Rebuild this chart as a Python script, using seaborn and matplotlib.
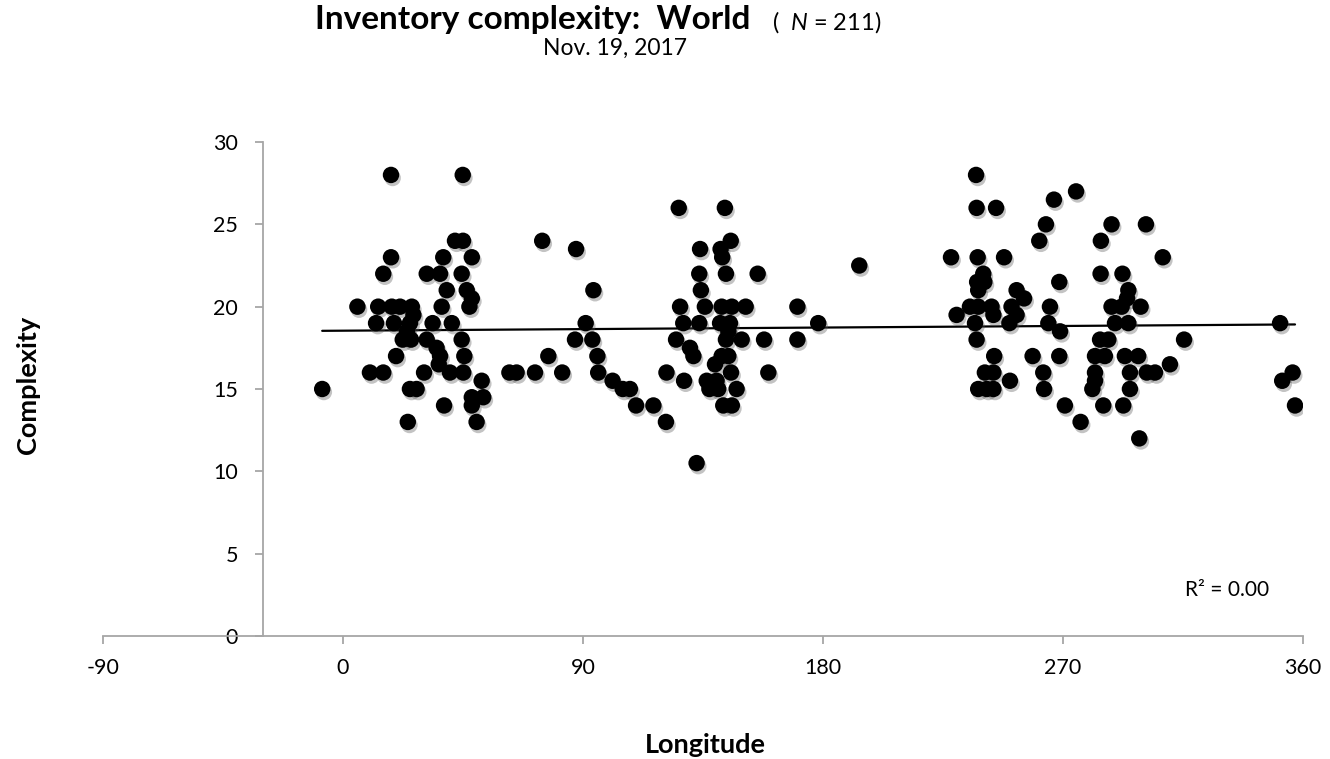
import matplotlib
matplotlib.use("Agg")
import matplotlib.pyplot as plt
import matplotlib.patheffects as pe
import pandas as pd
import seaborn as sns

# Longitude (degrees east, 0-360) and inventory complexity per language
longitude = [
    # Europe / Africa
    18.0, 44.9, 42.0, 45.0, 18.0, 37.6, 48.3, 15.1, 31.4, 36.4, 44.5,
    38.9, 46.4, 48.3, 47.4, 5.4, 13.2, 18.3, 21.4, 25.8, 37.0, 26.4,
    12.4, 19.1, 25.1, 33.6, 40.8, 24.0, 22.4, 25.5, 31.4, 44.5,
    35.1, 36.4, 35.9, 45.5, 19.9, 10.1, 15.1, 30.4, 40.1, 45.1,
    52.0, -7.8, 25.1, 27.6, 48.3, 52.6, 48.3, 37.9, 24.3, 50.1,
    # Asia
    74.7, 87.4, 93.9, 91.0, 87.0, 93.5, 95.4, 77.0,
    62.4, 65.1, 72.0, 82.2, 95.7, 101.1, 104.9, 107.6, 109.9, 116.4,
    121.1, 121.3,
    # East Asia / Oceania
    125.9, 143.2, 145.4, 133.9, 141.6, 142.2, 133.6, 143.6, 155.5, 134.2,
    126.4, 135.7, 142.0, 145.8, 151.0, 170.4, 127.6, 133.6, 141.4, 145.1,
    178.2, 144.5, 124.9, 143.6, 149.5, 157.9, 170.4, 130.1, 131.4, 142.0,
    144.5, 139.5, 145.5, 159.5, 127.9, 136.4, 140.1, 137.4, 140.7, 147.6,
    142.6, 145.8, 132.6, 193.6,
    # North America
    237.4, 237.6, 244.9, 228.0, 238.0, 247.9, 240.1, 237.8, 240.5, 238.2,
    252.6, 255.4, 235.1, 238.2, 243.2, 250.7, 230.1, 243.9, 252.6, 237.0,
    249.9, 237.6, 244.2, 258.6, 240.7, 243.9, 250.1, 238.2, 241.4, 243.9,
    # Central / South America
    274.9, 266.6, 263.6, 288.2, 301.1, 261.1, 284.2, 307.4, 284.1, 292.3,
    268.6, 294.5, 294.0, 265.1, 288.2, 292.0, 299.1, 264.5, 289.5, 294.5,
    268.9, 283.9, 287.0, 315.4, 268.6, 282.0, 285.7, 293.2, 298.2, 310.1,
    262.6, 282.0, 295.1, 301.4, 304.5, 282.0, 262.9, 281.0, 295.1, 270.7,
    285.1, 292.6, 276.6, 298.6,
    # Atlantic fringe
    351.4, 356.1, 352.2, 357.0,
]

complexity = [
    28, 28, 24, 24, 23, 23, 23, 22, 22, 22, 22,
    21, 21, 20.5, 20, 20, 20, 20, 20, 20, 20, 19.5,
    19, 19, 19, 19, 19, 18.5, 18, 18, 18, 18,
    17.5, 17, 16.5, 17, 17, 16, 16, 16, 16, 16,
    15.5, 15, 15, 15, 14.5, 14.5, 14, 14, 13, 13,
    24, 23.5, 21, 19, 18, 18, 17, 17,
    16, 16, 16, 16, 16, 15.5, 15, 15, 14, 14,
    13, 16,
    26, 26, 24, 23.5, 23.5, 23, 22, 22, 22, 21,
    20, 20, 20, 20, 20, 20, 19, 19, 19, 19,
    19, 18.5, 18, 18, 18, 18, 18, 17.5, 17, 17,
    17, 16.5, 16, 16, 15.5, 15.5, 15.5, 15, 15, 15,
    14, 14, 10.5, 22.5,
    28, 26, 26, 23, 23, 23, 22, 21.5, 21.5, 21,
    21, 20.5, 20, 20, 20, 20, 19.5, 19.5, 19.5, 19,
    19, 18, 17, 17, 16, 16, 15.5, 15, 15, 15,
    27, 26.5, 25, 25, 25, 24, 24, 23, 22, 22,
    21.5, 21, 20.5, 20, 20, 20, 20, 19, 19, 19,
    18.5, 18, 18, 18, 17, 17, 17, 17, 17, 16.5,
    16, 16, 16, 16, 16, 15.5, 15, 15, 15, 14,
    14, 14, 13, 12,
    19, 16, 15.5, 14,
]

x_ticks = [-90, 0, 90, 180, 270, 360]
y_ticks = [0, 5, 10, 15, 20, 25, 30]

df = pd.DataFrame({"Longitude": longitude, "Complexity": complexity})

sns.set_theme(style="white")
plt.rcParams["font.family"] = ["Lato", "DejaVu Sans"]
plt.rcParams["mathtext.fontset"] = "custom"
plt.rcParams["mathtext.it"] = "Lato:italic"
plt.rcParams["mathtext.rm"] = "Lato"
plt.rcParams["axes.unicode_minus"] = False
plt.rcParams["text.color"] = "black"

W, H = 1330, 759
fig = plt.figure(figsize=(W / 100, H / 100), dpi=100)
ax = fig.add_axes([103 / W, 1 - 636 / H, 1200 / W, 494 / H])

sns.regplot(
    data=df, x="Longitude", y="Complexity", ax=ax, ci=None,
    scatter_kws=dict(s=140, color="black", linewidths=0, alpha=1, zorder=3),
    line_kws=dict(color="black", linewidth=1.6, zorder=2),
)
ax.collections[0].set_path_effects([
    pe.SimplePatchShadow(offset=(1.2, -2.2), shadow_rgbFace="#555555", alpha=0.35),
    pe.Normal(),
])

axis_grey = "#a6a6a6"
ax.set_xlim(-90, 360)
ax.set_ylim(0, 30)
ax.set_xticks(x_ticks)
ax.set_yticks(y_ticks)
for side in ("top", "right"):
    ax.spines[side].set_visible(False)
ax.spines["left"].set_position(("data", -30))
ax.spines["bottom"].set_position(("data", 0))
for side in ("left", "bottom"):
    ax.spines[side].set_color(axis_grey)
    ax.spines[side].set_linewidth(1.3)
ax.tick_params(axis="both", which="major", bottom=True, left=True,
               direction="out", length=6, width=1.3, color=axis_grey,
               labelsize=15.5, labelcolor="black")
ax.tick_params(axis="y", pad=12)
ax.tick_params(axis="x", pad=10)
ax.set_xlabel("")
ax.set_ylabel("")
ax.set_facecolor("white")

fig.text(315 / W, 1 - 20 / H, "Inventory complexity:  World",
         fontsize=24, fontweight="bold", ha="left", va="center", color="black")
fig.text(772 / W, 1 - 22 / H, "(  $N$ = 211)", fontsize=17, ha="left", va="center",
         color="black")
fig.text(615 / W, 1 - 48 / H, "Nov. 19, 2017", fontsize=16.5, ha="center", va="center",
         color="black")
fig.text(28 / W, 1 - 385 / H, "Complexity", fontsize=19.5, fontweight="bold",
         rotation=90, ha="center", va="center", color="black")
fig.text(705 / W, 1 - 745 / H, "Longitude", fontsize=19.5, fontweight="bold",
         ha="center", va="center", color="black")
ax.text(0.937, 1 - (590 - 142) / 494, "R\u00b2 = 0.00",
        transform=ax.transAxes, fontsize=15, ha="center", va="center", color="black")

fig.savefig("out.png", dpi=100, facecolor="white")
